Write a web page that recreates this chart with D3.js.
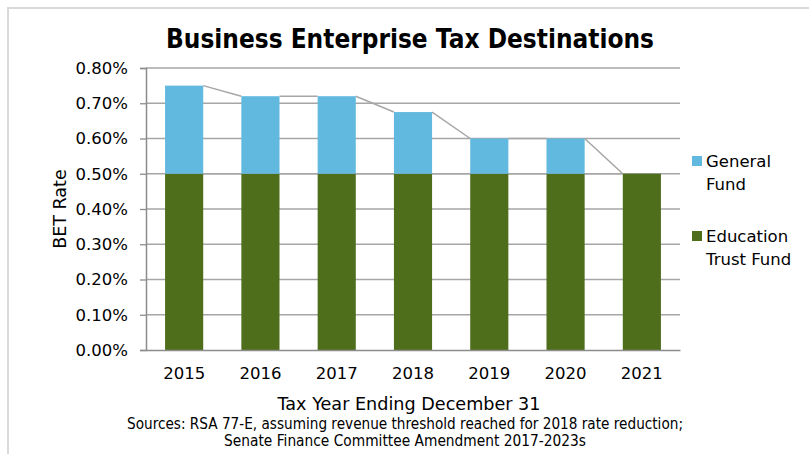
<!DOCTYPE html>
<html>
<head>
<meta charset="utf-8">
<script src="https://cdn.jsdelivr.net/npm/d3@7"></script>
<style>
  html, body { margin: 0; padding: 0; background: #ffffff; }
  svg { display: block; }
  text { font-family: "DejaVu Sans", Verdana, sans-serif; fill: #000; }
</style>
</head>
<body>
<svg id="chart" width="809" height="454"></svg>
<script>
// BET rate split by destination, in percent
const years = ["2015", "2016", "2017", "2018", "2019", "2020", "2021"];
const educationTrustFund = [0.50, 0.50, 0.50, 0.50, 0.50, 0.50, 0.50];
const generalFund = [0.25, 0.22, 0.22, 0.175, 0.10, 0.10, 0.00];
const yTicks = [0, 0.1, 0.2, 0.3, 0.4, 0.5, 0.6, 0.7, 0.8];
const seriesNames = ["Education Trust Fund", "General Fund"];
const seriesColors = ["#4E6E1B", "#62B9DF"];

const svg = d3.select("#chart");

// chart frame
svg.append("path")
  .attr("d", "M8,454 L8,8 L809,8")
  .attr("fill", "none")
  .attr("stroke", "#d9d9d9")
  .attr("stroke-width", 2);

const plot = { left: 146, right: 680, top: 68, bottom: 350 };

const x = d3.scaleBand()
  .domain(years)
  .range([plot.left, plot.right])
  .paddingInner(0.5)
  .paddingOuter(0.25);

const y = d3.scaleLinear()
  .domain([0, 0.8])
  .range([plot.bottom, plot.top]);

// gridlines
svg.append("g")
  .selectAll("line")
  .data(yTicks.filter(t => t > 0))
  .join("line")
  .attr("x1", plot.left)
  .attr("x2", plot.right)
  .attr("y1", d => y(d))
  .attr("y2", d => y(d))
  .attr("stroke", "#a6a6a6")
  .attr("stroke-width", 1.3);

// stacked data
const table = years.map((yr, i) => ({
  year: yr,
  "Education Trust Fund": educationTrustFund[i],
  "General Fund": generalFund[i]
}));
const stacked = d3.stack().keys(seriesNames)(table);

// series lines connecting the stack tops of neighbouring bars
const seriesLines = svg.append("g");
stacked.forEach(layer => {
  for (let i = 0; i < layer.length - 1; i++) {
    seriesLines.append("line")
      .attr("x1", x(years[i]) + x.bandwidth())
      .attr("x2", x(years[i + 1]))
      .attr("y1", y(layer[i][1]))
      .attr("y2", y(layer[i + 1][1]))
      .attr("stroke", "#a6a6a6")
      .attr("stroke-width", 1.5);
  }
});

// bars
svg.append("g")
  .selectAll("g")
  .data(stacked)
  .join("g")
  .attr("fill", (d, i) => seriesColors[i])
  .selectAll("rect")
  .data(d => d)
  .join("rect")
  .attr("x", d => x(d.data.year))
  .attr("width", x.bandwidth())
  .attr("y", d => y(d[1]))
  .attr("height", d => y(d[0]) - y(d[1]));

// y axis
const yAxis = svg.append("g")
  .attr("transform", `translate(${plot.left},0)`)
  .call(d3.axisLeft(y).tickValues(yTicks).tickSize(6).tickPadding(12)
    .tickFormat(d => d3.format(".2f")(d) + "%"));
yAxis.select(".domain").attr("stroke", "#8c8c8c").attr("stroke-width", 1.5);
yAxis.selectAll(".tick line").attr("stroke", "#8c8c8c").attr("stroke-width", 1.3);
yAxis.selectAll(".tick text")
  .attr("font-size", 16.5)
  .attr("font-family", "DejaVu Sans, sans-serif")
  .attr("fill", "#000");

// x axis
const xAxis = svg.append("g")
  .attr("transform", `translate(0,${plot.bottom})`)
  .call(d3.axisBottom(x).tickSize(0).tickPadding(17));
xAxis.select(".domain").attr("stroke", "#8c8c8c").attr("stroke-width", 1.5);
xAxis.selectAll(".tick text")
  .attr("font-size", 16.5)
  .attr("font-family", "DejaVu Sans, sans-serif")
  .attr("fill", "#000");

// title
svg.append("text")
  .attr("x", 410)
  .attr("y", 48)
  .attr("text-anchor", "middle")
  .attr("font-size", 26)
  .attr("font-weight", "bold")
  .attr("textLength", 488)
  .attr("lengthAdjust", "spacingAndGlyphs")
  .text("Business Enterprise Tax Destinations");

// axis titles
svg.append("text")
  .attr("transform", "translate(66,209) rotate(-90)")
  .attr("text-anchor", "middle")
  .attr("font-size", 17.5)
  .text("BET Rate");

svg.append("text")
  .attr("x", 409)
  .attr("y", 410)
  .attr("text-anchor", "middle")
  .attr("font-size", 18.5)
  .attr("textLength", 263)
  .attr("lengthAdjust", "spacingAndGlyphs")
  .text("Tax Year Ending December 31");

// sources
svg.append("text")
  .attr("x", 405)
  .attr("y", 429)
  .attr("text-anchor", "middle")
  .attr("font-size", 15)
  .attr("textLength", 556)
  .attr("lengthAdjust", "spacingAndGlyphs")
  .text("Sources: RSA 77-E, assuming revenue threshold reached for 2018 rate reduction;");
svg.append("text")
  .attr("x", 405)
  .attr("y", 446)
  .attr("text-anchor", "middle")
  .attr("font-size", 15)
  .attr("textLength", 362)
  .attr("lengthAdjust", "spacingAndGlyphs")
  .text("Senate Finance Committee Amendment 2017-2023s");

// legend (General Fund listed first)
const legendItems = [
  { lines: ["General", "Fund"], color: seriesColors[1], cy: 161 },
  { lines: ["Education", "Trust Fund"], color: seriesColors[0], cy: 236 }
];
const legend = svg.append("g");
legendItems.forEach(item => {
  legend.append("rect")
    .attr("x", 692)
    .attr("y", item.cy - 5)
    .attr("width", 10)
    .attr("height", 10)
    .attr("fill", item.color);
  item.lines.forEach((ln, j) => {
    legend.append("text")
      .attr("x", 706)
      .attr("y", item.cy + 6 + j * 23)
      .attr("font-size", 16.5)
      .text(ln);
  });
});
</script>
</body>
</html>
